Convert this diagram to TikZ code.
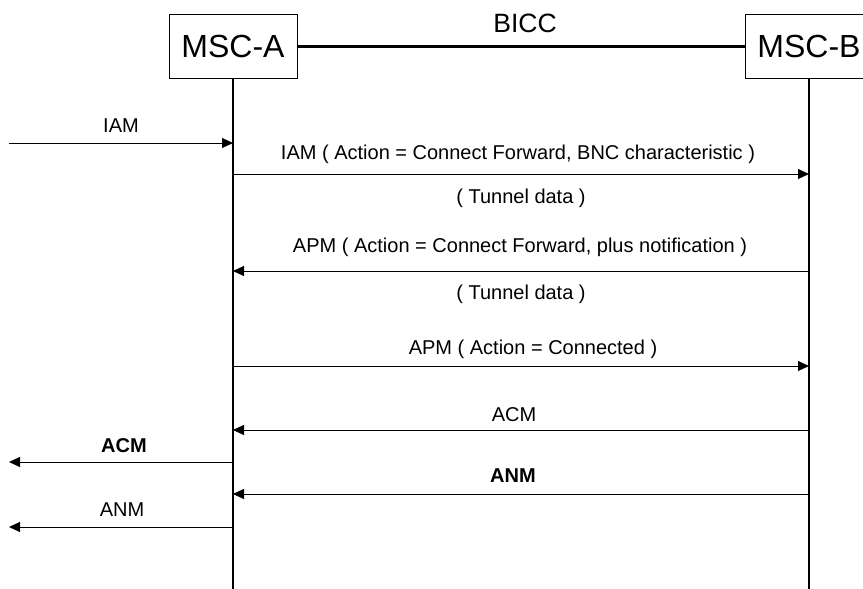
\documentclass[tikz,border=0pt]{standalone}
\usepackage{fontspec}
\setmainfont{Liberation Sans}
\usetikzlibrary{arrows.meta}
\begin{document}
\begin{tikzpicture}[x=1pt,y=-1pt,
  ent/.style={draw, line width=1pt, minimum width=128pt, minimum height=64pt, inner sep=0pt, font=\fontsize{32}{38}\selectfont},
  life/.style={line width=2.7pt},
  link/.style={line width=3pt},
  msg/.style={line width=1pt, -{Triangle[length=11pt,width=10pt]}},
  lbl/.style={anchor=base, inner sep=0pt, font=\fontsize{20}{24}\selectfont},
  blbl/.style={anchor=base, inner sep=0pt, font=\fontsize{20}{24}\selectfont\bfseries},
  tlbl/.style={anchor=base, inner sep=0pt, font=\fontsize{26.5}{30}\selectfont}]
\useasboundingbox (0,0) rectangle (863,589);
\fill[white] (0,0) rectangle (863,589);
% entities
\node[ent] (A) at (233,46) {MSC-A};
\node[ent] (B) at (809,46) {MSC-B};
\coordinate (Aend) at (233,589);
\coordinate (Bend) at (809,589);
\draw[life] (A.south) -- (Aend);
\draw[life] (B.south) -- (Bend);
\draw[link] (A.east) -- (B.west);
\node[tlbl] (bicc) at (525,32) {BICC};
% message points
\coordinate (in1) at (9,143);  \coordinate (a1) at (233,143);
\coordinate (a2) at (233,174); \coordinate (b2) at (809,174);
\coordinate (a3) at (233,271); \coordinate (b3) at (809,271);
\coordinate (a4) at (233,366); \coordinate (b4) at (809,366);
\coordinate (a5) at (233,430); \coordinate (b5) at (809,430);
\coordinate (a6) at (233,462); \coordinate (out6) at (9,462);
\coordinate (a7) at (233,494); \coordinate (b7) at (809,494);
\coordinate (a8) at (233,527); \coordinate (out8) at (9,527);
% messages
\draw[msg] (in1) -- (a1);
\draw[msg] (a2) -- (b2);
\draw[msg] (b3) -- (a3);
\draw[msg] (a4) -- (b4);
\draw[msg] (b5) -- (a5);
\draw[msg] (a6) -- (out6);
\draw[msg] (b7) -- (a7);
\draw[msg] (a8) -- (out8);
% labels
\node[lbl] (l1) at (121,132) {IAM};
\node[lbl] (l2) at (518,159) {IAM ( Action = Connect Forward, BNC characteristic )};
\node[lbl] (l2b) at (521,203) {( Tunnel data )};
\node[lbl] (l3) at (520,252) {APM ( Action = Connect Forward, plus notification )};
\node[lbl] (l3b) at (521,299) {( Tunnel data )};
\node[lbl] (l4) at (533,354) {APM ( Action = Connected )};
\node[lbl] (l5) at (514,421) {ACM};
\node[blbl] (l6) at (124,452) {ACM};
\node[blbl] (l7) at (513,482) {ANM};
\node[lbl] (l8) at (122,516) {ANM};
\end{tikzpicture}
\end{document}
